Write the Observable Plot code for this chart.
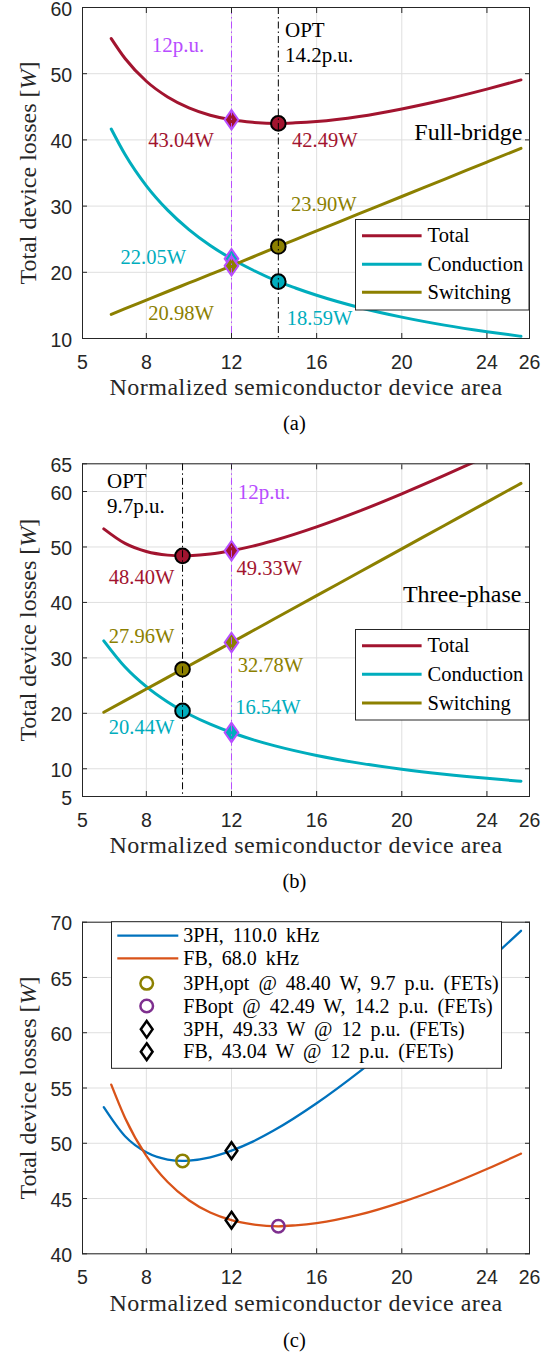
<!DOCTYPE html>
<html><head><meta charset="utf-8">
<script src="https://cdn.jsdelivr.net/npm/d3@7"></script>
<script src="https://cdn.jsdelivr.net/npm/@observablehq/plot@0.6"></script>
<style>
body{margin:0;background:#fff;}
#wrap{position:relative;width:551px;height:1352px;overflow:hidden;background:#fff;}
.panel{position:absolute;left:0;}
.cap{position:absolute;font-family:"Liberation Serif";font-size:20.5px;color:#000;transform:translate(-50%,-50%);white-space:nowrap;}
</style></head><body><div id="wrap"></div>
<script>
// ---------------- data ----------------
const areaTicks = [5, 8, 12, 16, 20, 24, 26];
const yTicksA = [10, 20, 30, 40, 50, 60];
const yTicksB = [5, 10, 20, 30, 40, 50, 60, 65];
const yTicksC = [40, 45, 50, 55, 60, 65, 70];

// Full-bridge (a)
const fbArea       = [6.35, 7, 8, 9, 10, 11, 12, 13, 14.2, 15, 16, 18, 20, 22, 24, 25.6];
const fbTotal      = [55.30, 52.29, 48.86, 46.49, 44.84, 43.73, 43.04, 42.66, 42.49, 42.58, 42.78, 43.54, 44.68, 46.07, 47.67, 49.06];
const fbConduction = [41.65, 37.79, 33.06, 29.39, 26.45, 24.05, 22.05, 20.35, 18.59, 17.63, 16.53, 14.69, 13.23, 12.02, 11.02, 10.33];
const fbSwitching  = [13.65, 14.50, 15.80, 17.10, 18.39, 19.68, 20.98, 22.31, 23.90, 24.95, 26.25, 28.85, 31.45, 34.05, 36.65, 38.73];

// Three-phase (b)
const tpArea       = [6.0, 7, 8, 9, 9.7, 10, 11, 12, 13, 14, 16, 18, 20, 22, 24, 25.6];
const tpTotal      = [53.27, 50.64, 49.19, 48.53, 48.40, 48.43, 48.72, 49.33, 50.15, 51.17, 53.62, 56.46, 59.58, 62.90, 66.37, 69.22];
const tpConduction = [33.07, 28.34, 24.80, 22.04, 20.44, 19.84, 18.04, 16.54, 15.26, 14.17, 12.40, 11.02, 9.92, 9.02, 8.27, 7.75];
const tpSwitching  = [20.20, 22.30, 24.39, 26.49, 27.96, 28.59, 30.68, 32.78, 34.89, 37.00, 41.22, 45.44, 49.66, 53.88, 58.10, 61.47];

const fbOptArea = 14.2, tpOptArea = 9.7, refArea = 12;
const seriesNames = ["Total", "Conduction", "Switching"];
const compareNames = ["3PH, 110.0 kHz", "FB, 68.0 kHz",
  "3PH,opt @ 48.40 W, 9.7 p.u. (FETs)", "FBopt @ 42.49 W, 14.2 p.u. (FETs)",
  "3PH, 49.33 W @ 12 p.u. (FETs)", "FB, 43.04 W @ 12 p.u. (FETs)"];
const panelNames = ["Full-bridge", "Three-phase"];
const captions = ["(a)", "(b)", "(c)"];

// ---------------- style ----------------
const C = {total:"#a2142f", conduction:"#00adbd", switching:"#8c8000", mark:"#b84dff",
  blue:"#0072bd", orange:"#d95319", purple:"#7e2f8e", olive:"#8c8000", ink:"#262626", grid:"#dfdfdf"};
const SERIF = "Liberation Serif", SANS = "Liberation Sans";
const DASHDOT = "7,3,1.5,3";
const diamond = {draw(ctx, size){ const h = Math.sqrt(size / 1.4), w = h * 0.7;
  ctx.moveTo(0, -h); ctx.lineTo(w, 0); ctx.lineTo(0, h); ctx.lineTo(-w, 0); ctx.closePath(); }};

const rows = (xs, ys) => xs.map((x, i) => ({x, y: ys[i]}));
const at = (xs, ys, x) => ({x, y: ys[xs.indexOf(x)]});
const W = 551, ML = 82, MR = 22;
const wrap = document.getElementById("wrap");

function baseMarks(yTicks) {
  return [
    Plot.gridX(areaTicks, {stroke: C.grid, strokeOpacity: 1}),
    Plot.gridY(yTicks, {stroke: C.grid, strokeOpacity: 1})
  ];
}
function axisMarks(yTicks, labelDy) {
  return [
    Plot.axisX(areaTicks, {anchor: "bottom", tickSize: -5, tickPadding: 21.7, label: null, fontSize: 19.5}),
    Plot.axisX(areaTicks, {anchor: "top", tickSize: -5, tickFormat: () => "", label: null}),
    Plot.axisY(yTicks, {anchor: "left", tickSize: 0, tickPadding: 10.3, dy: 1.8, label: null, fontSize: 19.5}),
    Plot.axisY(yTicks, {anchor: "left", tickSize: -5, tickFormat: () => "", label: null}),
    Plot.axisY(yTicks, {anchor: "right", tickSize: -5, tickFormat: () => "", label: null}),
    Plot.frame({stroke: C.ink, strokeWidth: 1}),
    Plot.text(["Normalized semiconductor device area"], {text: d => d, frameAnchor: "bottom", dy: labelDy,
      lineAnchor: "middle", fontFamily: SERIF, fontSize: 24, fill: C.ink}),
    Plot.text(["Total device losses [W]"], {text: d => d, frameAnchor: "left", dx: -54, rotate: -90,
      lineAnchor: "middle", textAnchor: "middle", fontFamily: SERIF, fontSize: 24, fill: C.ink})
  ];
}
function finish(svg) {
  d3.select(svg).selectAll("text").each(function() {
    const t = d3.select(this);
    if (this.textContent === "Total device losses [W]") {
      t.text(null);
      t.append("tspan").text("Total device losses [");
      t.append("tspan").attr("font-style", "italic").text("W");
      t.append("tspan").text("]");
    } else if (this.textContent === "Normalized semiconductor device area") {
      t.attr("letter-spacing", "0.5");
    }
  });
}
function place(svg, top) {
  svg.classList.add("panel");
  svg.style.top = top + "px";
  wrap.appendChild(svg);
}
function caption(text, x, y) {
  const d = document.createElement("div");
  d.className = "cap"; d.textContent = text;
  d.style.left = x + "px"; d.style.top = y + "px";
  wrap.appendChild(d);
}
function lineLegend(svg, box, items) {
  const g = d3.select(svg).append("g").attr("text-anchor", "start");
  g.append("rect").attr("x", box.x).attr("y", box.y).attr("width", box.w).attr("height", box.h)
    .attr("fill", "#fff").attr("stroke", C.ink).attr("stroke-width", 1);
  items.forEach((it, i) => {
    const y = box.rows[i];
    if (it.stroke) g.append("line").attr("x1", box.l1).attr("x2", box.l2).attr("y1", y).attr("y2", y)
      .attr("stroke", it.stroke).attr("stroke-width", it.sw || 3);
    if (it.symbol) g.append("path").attr("transform", `translate(${box.mx},${y})`)
      .attr("d", d3.symbol(it.symbol, Math.PI * it.r * it.r)())
      .attr("fill", "none").attr("stroke", it.symStroke).attr("stroke-width", 2.5);
    g.append("text").attr("x", box.tx).attr("y", y).attr("dy", "0.33em").attr("text-anchor", "start")
      .attr("font-family", SERIF).attr("font-size", box.fs).attr("fill", "#000")
      .attr("word-spacing", box.ws || 0).text(it.label);
  });
}
const valueLabel = (p, color, dx, dy, anchor) => Plot.text([p], {x: "x", y: "y", text: d => d.y.toFixed(2) + "W",
  dx, dy, textAnchor: anchor, lineAnchor: "middle", fontFamily: SERIF, fontSize: 20.5, fill: color});
const topLabel = (x, text, color, dx, dy, anchor, fs) => Plot.text([text], {x: () => x, text: d => d,
  frameAnchor: "top", dx, dy, textAnchor: anchor, lineAnchor: "middle", fontFamily: SERIF, fontSize: fs || 21, fill: color});
const styleObj = {fontFamily: SANS, fontSize: "19.5px", color: C.ink, background: "transparent", overflow: "visible"};

// ---------------- panel (a) ----------------
{
  const T12 = at(fbArea, fbTotal, refArea), C12 = at(fbArea, fbConduction, refArea), S12 = at(fbArea, fbSwitching, refArea);
  const To = at(fbArea, fbTotal, fbOptArea), Co = at(fbArea, fbConduction, fbOptArea), So = at(fbArea, fbSwitching, fbOptArea);
  const svg = Plot.plot({
    width: W, height: 406, marginLeft: ML, marginRight: MR, marginTop: 7, marginBottom: 68,
    x: {domain: [5, 26]}, y: {domain: [10, 60]}, style: styleObj,
    marks: [
      ...baseMarks(yTicksA),
      Plot.line(rows(fbArea, fbTotal), {x: "x", y: "y", stroke: C.total, strokeWidth: 3, curve: "monotone-x"}),
      Plot.line(rows(fbArea, fbConduction), {x: "x", y: "y", stroke: C.conduction, strokeWidth: 3, curve: "monotone-x"}),
      Plot.line(rows(fbArea, fbSwitching), {x: "x", y: "y", stroke: C.switching, strokeWidth: 3, curve: "monotone-x"}),
      Plot.dot([T12], {x: "x", y: "y", symbol: diamond, r: 6.5, fill: C.total, stroke: C.mark, strokeWidth: 2}),
      Plot.dot([C12], {x: "x", y: "y", symbol: diamond, r: 6.5, fill: C.conduction, stroke: C.mark, strokeWidth: 2}),
      Plot.dot([S12], {x: "x", y: "y", symbol: diamond, r: 6.5, fill: C.switching, stroke: C.mark, strokeWidth: 2}),
      Plot.dot([To], {x: "x", y: "y", r: 7.3, fill: C.total, stroke: "#000", strokeWidth: 2}),
      Plot.dot([So], {x: "x", y: "y", r: 7.3, fill: C.switching, stroke: "#000", strokeWidth: 2}),
      Plot.dot([Co], {x: "x", y: "y", r: 7.3, fill: C.conduction, stroke: "#000", strokeWidth: 2}),
      Plot.ruleX([refArea], {stroke: C.mark, strokeWidth: 1, strokeDasharray: DASHDOT}),
      Plot.ruleX([fbOptArea], {stroke: "#000", strokeWidth: 1, strokeDasharray: DASHDOT}),
      valueLabel(T12, C.total, -17.7, 20.4, "end"),
      valueLabel(To, C.total, 13.7, 16.7, "start"),
      valueLabel(C12, C.conduction, -45.5, -1.3, "end"),
      valueLabel(S12, C.switching, -17.7, 47.2, "end"),
      valueLabel(So, C.switching, 12.7, -42.4, "start"),
      valueLabel(Co, C.conduction, 8.5, 37.3, "start"),
      topLabel(refArea, refArea + "p.u.", C.mark, -27.2, 38, "end"),
      topLabel(fbOptArea, "OPT", "#000", 6.7, 23, "start"),
      topLabel(fbOptArea, fbOptArea + "p.u.", "#000", 6.7, 48, "start"),
      Plot.text([panelNames[0]], {text: d => d, frameAnchor: "top-right", dx: -7.2, dy: 124.7, textAnchor: "end",
        lineAnchor: "middle", fontFamily: SERIF, fontSize: 24, fill: "#000"}),
      ...axisMarks(yTicksA, 49.3)
    ]
  });
  finish(svg);
  lineLegend(svg, {x: 355.5, y: 219.5, w: 173.5, h: 90.5, rows: [235.7, 264.3, 292.3], l1: 362, l2: 421.6, tx: 427.6, fs: 20.5},
    [{label: seriesNames[0], stroke: C.total}, {label: seriesNames[1], stroke: C.conduction}, {label: seriesNames[2], stroke: C.switching}]);
  place(svg, 0);
  caption(captions[0], 294.4, 423.3);
}

// ---------------- panel (b) ----------------
{
  const T12 = at(tpArea, tpTotal, refArea), C12 = at(tpArea, tpConduction, refArea), S12 = at(tpArea, tpSwitching, refArea);
  const To = at(tpArea, tpTotal, tpOptArea), Co = at(tpArea, tpConduction, tpOptArea), So = at(tpArea, tpSwitching, tpOptArea);
  const svg = Plot.plot({
    width: W, height: 425, marginLeft: ML, marginRight: MR, marginTop: 23.3, marginBottom: 69,
    x: {domain: [5, 26]}, y: {domain: [5, 65]}, style: styleObj,
    marks: [
      ...baseMarks(yTicksB),
      Plot.line(rows(tpArea, tpTotal), {x: "x", y: "y", stroke: C.total, strokeWidth: 3, curve: "monotone-x", clip: true}),
      Plot.line(rows(tpArea, tpConduction), {x: "x", y: "y", stroke: C.conduction, strokeWidth: 3, curve: "monotone-x"}),
      Plot.line(rows(tpArea, tpSwitching), {x: "x", y: "y", stroke: C.switching, strokeWidth: 3, curve: "monotone-x"}),
      Plot.dot([T12], {x: "x", y: "y", symbol: diamond, r: 6.5, fill: C.total, stroke: C.mark, strokeWidth: 2}),
      Plot.dot([C12], {x: "x", y: "y", symbol: diamond, r: 6.5, fill: C.conduction, stroke: C.mark, strokeWidth: 2}),
      Plot.dot([S12], {x: "x", y: "y", symbol: diamond, r: 6.5, fill: C.switching, stroke: C.mark, strokeWidth: 2}),
      Plot.dot([To], {x: "x", y: "y", r: 7.3, fill: C.total, stroke: "#000", strokeWidth: 2}),
      Plot.dot([So], {x: "x", y: "y", r: 7.3, fill: C.switching, stroke: "#000", strokeWidth: 2}),
      Plot.dot([Co], {x: "x", y: "y", r: 7.3, fill: C.conduction, stroke: "#000", strokeWidth: 2}),
      Plot.ruleX([tpOptArea], {stroke: "#000", strokeWidth: 1, strokeDasharray: DASHDOT}),
      Plot.ruleX([refArea], {stroke: C.mark, strokeWidth: 1, strokeDasharray: DASHDOT}),
      valueLabel(To, C.total, -8.2, 22, "end"),
      valueLabel(T12, C.total, 5, 18, "start"),
      valueLabel(So, C.switching, -8.2, -32.7, "end"),
      valueLabel(S12, C.switching, 6.2, 23.3, "start"),
      valueLabel(C12, C.conduction, 3.7, -24.7, "start"),
      valueLabel(Co, C.conduction, -8.2, 17, "end"),
      Plot.text(["OPT"], {text: d => d, frameAnchor: "top-left", dx: 24.5, dy: 17.4, textAnchor: "start",
        lineAnchor: "middle", fontFamily: SERIF, fontSize: 21, fill: "#000"}),
      Plot.text([tpOptArea + "p.u."], {text: d => d, frameAnchor: "top-left", dx: 24.5, dy: 42.7, textAnchor: "start",
        lineAnchor: "middle", fontFamily: SERIF, fontSize: 21, fill: "#000"}),
      topLabel(refArea, refArea + "p.u.", C.mark, 6.2, 28.4, "start"),
      Plot.text([panelNames[1]], {text: d => d, frameAnchor: "top-right", dx: -8, dy: 130.7, textAnchor: "end",
        lineAnchor: "middle", fontFamily: SERIF, fontSize: 24, fill: "#000"}),
      ...axisMarks(yTicksB, 49)
    ]
  });
  finish(svg);
  lineLegend(svg, {x: 355.5, y: 189.5, w: 173.5, h: 90.5, rows: [205.7, 234.3, 263], l1: 362, l2: 421.6, tx: 427.6, fs: 20.5},
    [{label: seriesNames[0], stroke: C.total}, {label: seriesNames[1], stroke: C.conduction}, {label: seriesNames[2], stroke: C.switching}]);
  place(svg, 440);
  caption(captions[1], 294.4, 881);
}

// ---------------- panel (c) ----------------
{
  const tpO = at(tpArea, tpTotal, tpOptArea), fbO = at(fbArea, fbTotal, fbOptArea);
  const tpR = at(tpArea, tpTotal, refArea), fbR = at(fbArea, fbTotal, refArea);
  const svg = Plot.plot({
    width: W, height: 440, marginLeft: ML, marginRight: MR, marginTop: 41.7, marginBottom: 66.7,
    x: {domain: [5, 26]}, y: {domain: [40, 70]}, style: styleObj,
    marks: [
      ...baseMarks(yTicksC),
      Plot.line(rows(tpArea, tpTotal), {x: "x", y: "y", stroke: C.blue, strokeWidth: 2.3, curve: "monotone-x"}),
      Plot.line(rows(fbArea, fbTotal), {x: "x", y: "y", stroke: C.orange, strokeWidth: 2.3, curve: "monotone-x"}),
      Plot.dot([tpO], {x: "x", y: "y", r: 6.3, fill: "none", stroke: C.olive, strokeWidth: 2.5}),
      Plot.dot([fbO], {x: "x", y: "y", r: 6.3, fill: "none", stroke: C.purple, strokeWidth: 2.5}),
      Plot.dot([tpR, fbR], {x: "x", y: "y", symbol: diamond, r: 5.6, fill: "none", stroke: "#000", strokeWidth: 2.5}),
      ...axisMarks(yTicksC, 50)
    ]
  });
  finish(svg);
  lineLegend(svg, {x: 111.5, y: 41.7, w: 390, h: 146.6, rows: [55.7, 78.3, 103.3, 126, 149.3, 171.7],
      l1: 117.3, l2: 178.3, mx: 146.7, tx: 183.3, fs: 20, ws: 4},
    [{label: compareNames[0], stroke: C.blue, sw: 2.3},
     {label: compareNames[1], stroke: C.orange, sw: 2.3},
     {label: compareNames[2], symbol: d3.symbolCircle, r: 6.3, symStroke: C.olive},
     {label: compareNames[3], symbol: d3.symbolCircle, r: 6.3, symStroke: C.purple},
     {label: compareNames[4], symbol: diamond, r: 5.6, symStroke: "#000"},
     {label: compareNames[5], symbol: diamond, r: 5.6, symStroke: "#000"}]);
  place(svg, 880);
  caption(captions[2], 294.4, 1340);
}
</script></body></html>
